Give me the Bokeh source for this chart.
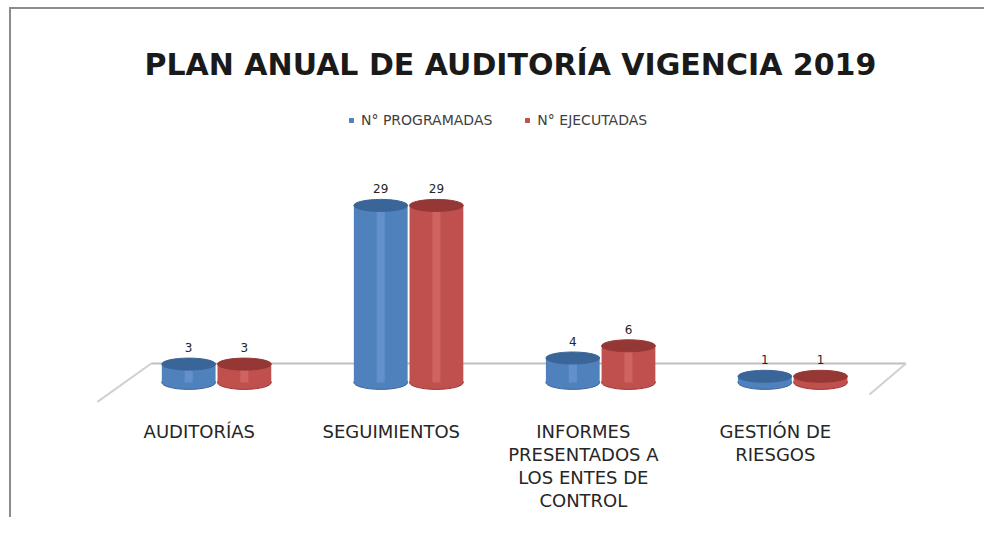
from bokeh.plotting import figure
from bokeh.models import (ColumnDataSource, Legend, LegendItem, Title, FixedTicker,
                          LinearAxis, Range1d)
from bokeh.embed import file_html
from bokeh.resources import INLINE
from bokeh.core.properties import value

categories = ["AUDITORÍAS", "SEGUIMIENTOS", "INFORMES\nPRESENTADOS A\nLOS ENTES DE\nCONTROL", "GESTIÓN DE\nRIESGOS"]
programadas = [3, 29, 4, 1]
ejecutadas = [3, 29, 6, 1]
series_names = ["N° PROGRAMADAS", "N° EJECUTADAS"]
title_text = "PLAN ANUAL DE AUDITORÍA VIGENCIA 2019"

blue, blue_dark, blue_light = "#4f81bd", "#3a6598", "#6f9bd3"
red, red_dark, red_light = "#c0504d", "#953735", "#d8706d"

xs = list(range(len(categories)))
w = 0.28
off = 0.145
src = ColumnDataSource(dict(
    xb=[x - off for x in xs], xr=[x + off for x in xs],
    p=programadas, e=ejecutadas,
    pl=[str(v) for v in programadas], el=[str(v) for v in ejecutadas],
    zero=[0] * len(xs),
))

X0, X1 = -0.75, 3.65
p = figure(width=975, height=510, output_backend="svg", toolbar_location=None,
           x_range=(X0, X1), y_range=(-3.62, 46.35),
           min_border_left=61, min_border_right=69, min_border_top=90, min_border_bottom=115)
p.styles = {"margin-left": "9px", "margin-top": "7px",
            "border-left": "2px solid #8c8c8c", "border-top": "2px solid #8c8c8c"}
p.outline_line_color = None
p.xgrid.visible = False
p.ygrid.visible = False
p.yaxis.visible = False
p.xaxis.visible = False

# floor
p.line([-0.34, 3.59], [3.1, 3.1], line_color="#bfbfbf", line_width=2)
p.line([-0.34, -0.62], [3.1, -3.2], line_color="#d0d0d0", line_width=2)
p.line([3.59, 3.40], [3.1, -2.0], line_color="#d0d0d0", line_width=2)

# cylinders
for xcol, vcol, c, cd, cl in (("xb", "p", blue, blue_dark, blue_light), ("xr", "e", red, red_dark, red_light)):
    p.ellipse(x=xcol, y="zero", width=w, height=14, height_units="screen", source=src,
              fill_color=c, line_color=cd)
    p.vbar(x=xcol, bottom="zero", top=vcol, width=w, source=src, fill_color=c, line_color=None)
    p.vbar(x=xcol, bottom="zero", top=vcol, width=w * 0.15, source=src, fill_color=cl, line_color=None,
           fill_alpha=0.6)
    p.ellipse(x=xcol, y=vcol, width=w, height=12, height_units="screen", source=src,
              fill_color=cd, line_color=cd)

# data labels
for xcol, vcol, lcol in (("xb", "p", "pl"), ("xr", "e", "el")):
    p.text(x=xcol, y=vcol, text=lcol, source=src, text_align="center", text_baseline="bottom",
           y_offset=-12, text_font_size="12px", text_color="#262626", text_font=value("DejaVu Sans"))

# category axis (perspective: labels sit slightly left of the columns)
shift = 0.09
p.extra_x_ranges = {"lab": Range1d(X0 + shift, X1 + shift)}
ax = LinearAxis(x_range_name="lab")
ax.ticker = FixedTicker(ticks=xs)
ax.major_label_overrides = {i: c for i, c in enumerate(categories)}
ax.axis_line_color = None
ax.major_tick_line_color = None
ax.minor_tick_line_color = None
ax.major_label_standoff = 10
ax.major_label_text_font = "DejaVu Sans"
ax.major_label_text_font_size = "18px"
ax.major_label_text_color = "#262626"
ax.major_label_text_line_height = 1.1
p.add_layout(ax, "below")

# legend
rb = p.scatter(x=[-5], y=[-5], marker="square", size=8, fill_color=blue, line_color=blue)
rr = p.scatter(x=[-5], y=[-5], marker="square", size=8, fill_color=red, line_color=red)
leg = Legend(items=[LegendItem(label=series_names[0], renderers=[rb]),
                    LegendItem(label=series_names[1], renderers=[rr])],
             orientation="horizontal", location=(274, 276), border_line_color=None,
             background_fill_alpha=0, label_text_font_size="14px", label_text_color="#404040",
             label_text_font="DejaVu Sans", glyph_width=10, glyph_height=10, spacing=30,
             margin=0, padding=2)
p.add_layout(leg, "center")

t = Title(text=title_text, align="left", text_font_size="30px", text_font="DejaVu Sans",
          text_font_style="bold", text_color="#1a1a1a", standoff=36, offset=72)
p.add_layout(t, "above")

open("out.html", "w").write(file_html(p, INLINE))
